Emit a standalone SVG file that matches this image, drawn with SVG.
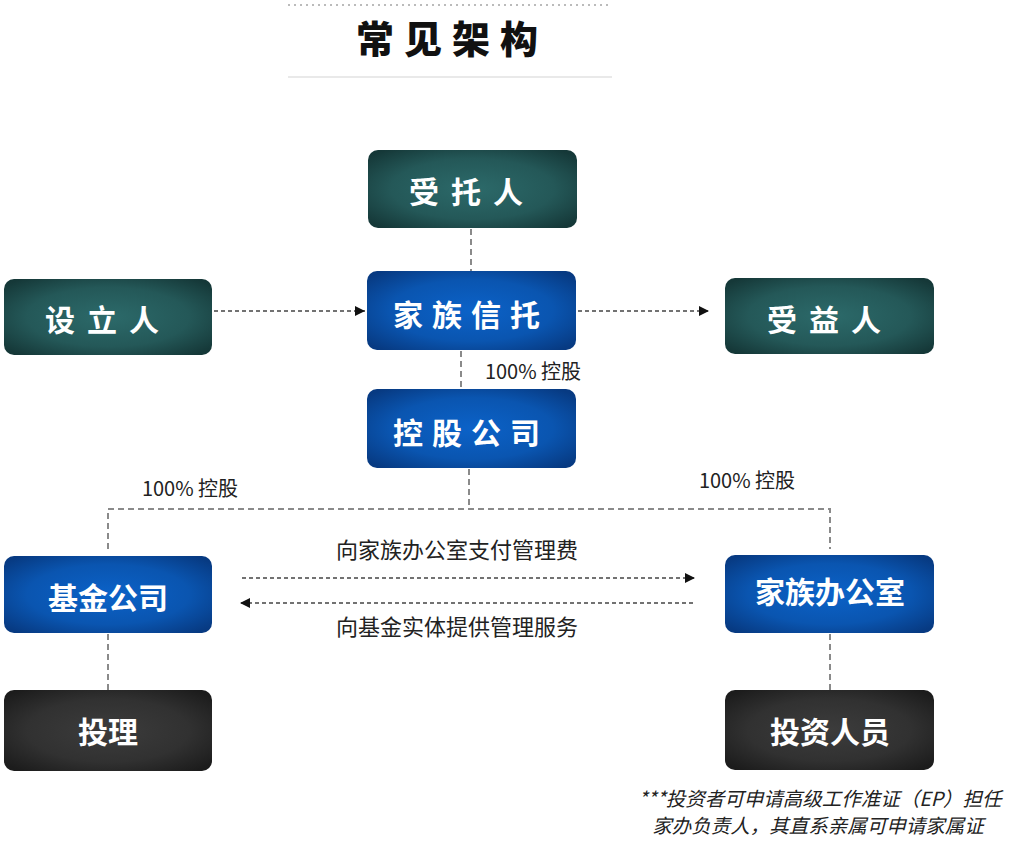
<svg xmlns="http://www.w3.org/2000/svg" width="1023" height="849" viewBox="0 0 1023 849">
<defs>
<radialGradient id="gTeal" cx="50%" cy="50%" r="65%">
<stop offset="0%" stop-color="#2c6a6a"/><stop offset="60%" stop-color="#245858"/><stop offset="100%" stop-color="#153838"/>
</radialGradient>
<radialGradient id="gBlue" cx="50%" cy="50%" r="65%">
<stop offset="0%" stop-color="#0b62c8"/><stop offset="60%" stop-color="#0a55b0"/><stop offset="100%" stop-color="#073a82"/>
</radialGradient>
<radialGradient id="gDark" cx="50%" cy="50%" r="65%">
<stop offset="0%" stop-color="#3c3c3c"/><stop offset="60%" stop-color="#313131"/><stop offset="100%" stop-color="#1c1c1c"/>
</radialGradient>
<marker id="arr" viewBox="0 0 10 10" refX="10" refY="5" markerWidth="10" markerHeight="10" markerUnits="userSpaceOnUse" orient="auto">
<path d="M0,0 L10,5 L0,10 z" fill="#111"/>
</marker>
</defs>
<style>
.teal{fill:url(#gTeal)}
.blue{fill:url(#gBlue)}
.dark{fill:url(#gDark)}
.nt{font-family:"Noto Sans CJK SC","Noto Sans",sans-serif;font-weight:bold;fill:#fff;text-anchor:middle;dominant-baseline:central}
.lbl{font-family:"Noto Sans CJK SC","Noto Sans",sans-serif;fill:#222;text-anchor:middle}
.ln{stroke:#8a8a8a;stroke-width:2;stroke-dasharray:6 4;fill:none}
.ar{stroke:#444;stroke-width:1.5;stroke-dasharray:4 3;fill:none}
</style>
<rect width="1023" height="849" fill="#fff"/>
<g id="title">
<line x1="288" y1="5" x2="612" y2="5" stroke="#bbb" stroke-width="2" stroke-dasharray="2 4"/>
<text x="452" y="36" font-family="Noto Sans CJK SC,sans-serif" font-weight="900" font-size="38" text-anchor="middle" dominant-baseline="central" letter-spacing="10" fill="#111">常见架构</text>
<line x1="288" y1="77" x2="612" y2="77" stroke="#e2e2e2" stroke-width="1.5"/>
</g>
<g id="connectors">
<line class="ln" x1="471" y1="229" x2="471" y2="271"/>
<line class="ar" x1="214" y1="311" x2="365" y2="311" marker-end="url(#arr)"/>
<line class="ar" x1="578" y1="311" x2="709" y2="311" marker-end="url(#arr)"/>
<line class="ln" x1="461" y1="351" x2="461" y2="389"/>
<path class="ln" d="M469,469 V509 M108,549 V509 H830 V549"/>
<line class="ar" x1="242" y1="578" x2="695" y2="578" marker-end="url(#arr)"/>
<line class="ar" x1="693" y1="603" x2="240" y2="603" marker-end="url(#arr)"/>
<line class="ln" x1="108" y1="634" x2="108" y2="690"/>
<line class="ln" x1="830" y1="634" x2="830" y2="690"/>
<text class="lbl" x="533" y="379" font-size="20">100% 控股</text>
<text class="lbl" x="190" y="496" font-size="20">100% 控股</text>
<text class="lbl" x="747" y="488" font-size="20">100% 控股</text>
<text class="lbl" x="457" y="558" font-size="22">向家族办公室支付管理费</text>
<text class="lbl" x="457" y="635" font-size="22">向基金实体提供管理服务</text>
</g>
<g id="n-trustee"><rect class="teal" x="368" y="150" width="209" height="78" rx="10"/><text class="nt" x="472" y="190" font-size="30" letter-spacing="12">受托人</text></g>
<g id="n-settlor"><rect class="teal" x="4" y="279" width="208" height="76" rx="10"/><text class="nt" x="108" y="318" font-size="30" letter-spacing="12">设立人</text></g>
<g id="n-trust"><rect class="blue" x="367" y="271" width="209" height="79" rx="10"/><text class="nt" x="471" y="313" font-size="30" letter-spacing="9">家族信托</text></g>
<g id="n-beneficiary"><rect class="teal" x="725" y="278" width="209" height="76" rx="10"/><text class="nt" x="830" y="318" font-size="30" letter-spacing="12">受益人</text></g>
<g id="n-holding"><rect class="blue" x="367" y="389" width="209" height="79" rx="10"/><text class="nt" x="471" y="431" font-size="30" letter-spacing="9">控股公司</text></g>
<g id="n-fund"><rect class="blue" x="4" y="556" width="208" height="77" rx="10"/><text class="nt" x="108" y="596" font-size="30">基金公司</text></g>
<g id="n-office"><rect class="blue" x="725" y="555" width="209" height="78" rx="10"/><text class="nt" x="830" y="590" font-size="30">家族办公室</text></g>
<g id="n-im"><rect class="dark" x="4" y="690" width="208" height="81" rx="10"/><text class="nt" x="108" y="730" font-size="30">投理</text></g>
<g id="n-staff"><rect class="dark" x="725" y="690" width="209" height="80" rx="10"/><text class="nt" x="830" y="730" font-size="30">投资人员</text></g>
<g id="note">
<text class="lbl" x="820" y="806" font-size="19.5" font-style="italic" fill="#111">***投资者可申请高级工作准证（EP）担任</text>
<text class="lbl" x="818" y="833" font-size="19.5" font-style="italic" fill="#111">家办负责人，其直系亲属可申请家属证</text>
</g>
</svg>
